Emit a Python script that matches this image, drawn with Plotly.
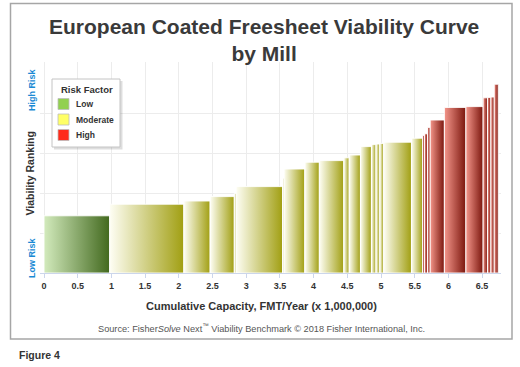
import numpy as np
import plotly.graph_objects as go

# ---------------- data ----------------
capacity = [0.975, 1.10, 0.39, 0.358, 0.027, 0.69, 0.02, 0.31, 0.215, 0.363,
            0.08, 0.167, 0.163, 0.067, 0.057, 0.058, 0.412, 0.165,
            0.028, 0.045, 0.04, 0.21, 0.32, 0.255, 0.065, 0.05, 0.05, 0.06]
viability = [1.43, 1.72, 1.80, 1.91, 1.99, 2.16, 2.37, 2.60, 2.77, 2.81,
             2.88, 2.95, 3.16, 3.21, 3.225, 3.24, 3.27, 3.37,
             3.44, 3.48, 3.64, 3.825, 4.14, 4.16, 4.38, 4.39, 4.40, 4.72]
risk = ["Low"] + ["Moderate"] * 17 + ["High"] * 10
risk_levels = ["Low", "Moderate", "High"]
x_ticks = [0, 0.5, 1, 1.5, 2, 2.5, 3, 3.5, 4, 4.5, 5, 5.5, 6, 6.5]
x_tick_labels = ["0", "0.5", "1", "1.5", "2", "2.5", "3", "3.5", "4", "4.5", "5", "5.5", "6", "6.5"]

# ---------------- styles ----------------
FONT = "Liberation Sans, Arial, sans-serif"
bar_scales = {
    "Low": [[0, "#d3ebbd"], [1, "#42691e"]],
    "Moderate": [[0, "#fefef4"], [1, "#a19f12"]],
    "High": [[0, "#f4968b"], [1, "#7a150c"]],
}
legend_colors = {"Low": "#92d050", "Moderate": "#ffff66", "High": "#ff2a1a"}

W, H = 520, 367
ML, MR, MT, MB = 40, 19, 62, 94
PW, PH = W - ML - MR, H - MT - MB
XPX = 67.4   # px per unit
YPX = 40.0
x0r = -4 / XPX
xrange = [x0r, x0r + PW / XPX]
yrange = [0, PH / YPX]


def px2x(px):
    return (px - ML) / PW


def py2y(py):
    return (H - MB - py) / PH


fig = go.Figure()

ends = np.cumsum(capacity)
starts = ends - np.array(capacity)
for s, e, v, r in zip(starts, ends, viability, risk):
    fig.add_trace(go.Scatter(
        x=[s, e, e, s, s], y=[0, 0, v, v, 0],
        mode="lines", fill="toself",
        fillgradient=dict(type="horizontal", colorscale=bar_scales[r]),
        line=dict(color="rgba(255,255,255,0.9)", width=1),
        hoverinfo="skip", showlegend=False, name=r,
    ))

fig.update_layout(
    width=W, height=H,
    margin=dict(l=ML, r=MR, t=MT, b=MB),
    paper_bgcolor="white", plot_bgcolor="white",
    font=dict(family=FONT, color="#333333"),
    showlegend=False,
    xaxis=dict(
        range=xrange, tickvals=x_ticks, ticktext=x_tick_labels,
        showgrid=True, gridcolor="#ececec", gridwidth=1,
        zeroline=False, showline=True, linecolor="#ccd6eb", linewidth=1,
        ticks="outside", ticklen=4, tickcolor="#ccd6eb",
        tickfont=dict(size=9, weight="bold", color="#333"),
        fixedrange=True,
    ),
    yaxis=dict(
        range=yrange, tickvals=[0, 1, 2, 3, 4], showticklabels=False,
        showgrid=True, gridcolor="#ececec", gridwidth=1,
        zeroline=False, showline=False, fixedrange=True,
    ),
)

shapes = []
# outer frame
shapes.append(dict(type="rect", xref="paper", yref="paper",
                   x0=px2x(10.5), x1=px2x(512), y0=py2y(339), y1=py2y(3.5),
                   line=dict(color="#a6a6a6", width=1.5), fillcolor="rgba(0,0,0,0)",
                   layer="below"))
# legend box with shadow
shapes.append(dict(type="rect", xref="paper", yref="paper",
                   x0=px2x(54), x1=px2x(122.5), y0=py2y(149.5), y1=py2y(81),
                   line=dict(width=0), fillcolor="rgba(0,0,0,0.13)"))
shapes.append(dict(type="rect", xref="paper", yref="paper",
                   x0=px2x(52), x1=px2x(120), y0=py2y(147), y1=py2y(79),
                   line=dict(color="#c4c4c4", width=1), fillcolor="white"))

ann = []
legend_y = [104, 119.5, 135]
for r, yc in zip(risk_levels, legend_y):
    shapes.append(dict(type="rect", xref="paper", yref="paper",
                       x0=px2x(58), x1=px2x(69), y0=py2y(yc + 5.5), y1=py2y(yc - 5.5),
                       line=dict(color="#bdbdbd", width=0.8), fillcolor=legend_colors[r]))
    ann.append(dict(text=r, x=px2x(74), y=py2y(yc), xref="paper", yref="paper",
                    xanchor="left", yanchor="middle", showarrow=False,
                    font=dict(size=8.5, weight="bold", color="#333")))
ann.append(dict(text="Risk Factor", x=px2x(59), y=py2y(89), xref="paper", yref="paper",
                xanchor="left", yanchor="middle", showarrow=False,
                font=dict(size=9.5, weight="bold", color="#333")))

ann.append(dict(text="European Coated Freesheet Viability Curve<br>by Mill",
                x=px2x(264), y=py2y(40), xref="paper", yref="paper",
                xanchor="center", yanchor="middle", showarrow=False,
                font=dict(size=21, weight="bold", color="#3a3a3a")))
ann.append(dict(text="Cumulative Capacity, FMT/Year (x 1,000,000)",
                x=px2x(261), y=py2y(305.5), xref="paper", yref="paper",
                xanchor="center", yanchor="middle", showarrow=False,
                font=dict(size=11, weight="bold", color="#333")))
ann.append(dict(text="Source: Fisher<i>Solve</i> Next<sup>™</sup> Viability Benchmark © 2018 Fisher International, Inc.",
                x=px2x(261), y=py2y(327.5), xref="paper", yref="paper",
                xanchor="center", yanchor="middle", showarrow=False,
                font=dict(size=9.2, color="#555")))
ann.append(dict(text="Figure 4", x=px2x(17), y=py2y(355), xref="paper", yref="paper",
                xanchor="left", yanchor="middle", showarrow=False,
                font=dict(size=10.5, weight="bold", color="#333")))
ann.append(dict(text="Viability Ranking", x=px2x(29), y=py2y(173.5), xref="paper", yref="paper",
                xanchor="center", yanchor="middle", showarrow=False, textangle=-90,
                font=dict(size=10.5, weight="bold", color="#333")))
ann.append(dict(text="High Risk", x=px2x(32), y=py2y(90), xref="paper", yref="paper",
                xanchor="center", yanchor="middle", showarrow=False, textangle=-90,
                font=dict(size=9, weight="bold", color="#1a8ad4")))
ann.append(dict(text="Low Risk", x=px2x(32), y=py2y(258), xref="paper", yref="paper",
                xanchor="center", yanchor="middle", showarrow=False, textangle=-90,
                font=dict(size=9, weight="bold", color="#1a8ad4")))
fig.update_layout(annotations=ann, shapes=shapes)

fig.write_html("out.html", config={"displayModeBar": False},
               post_script="document.body.style.margin='0';document.body.style.padding='0';")
